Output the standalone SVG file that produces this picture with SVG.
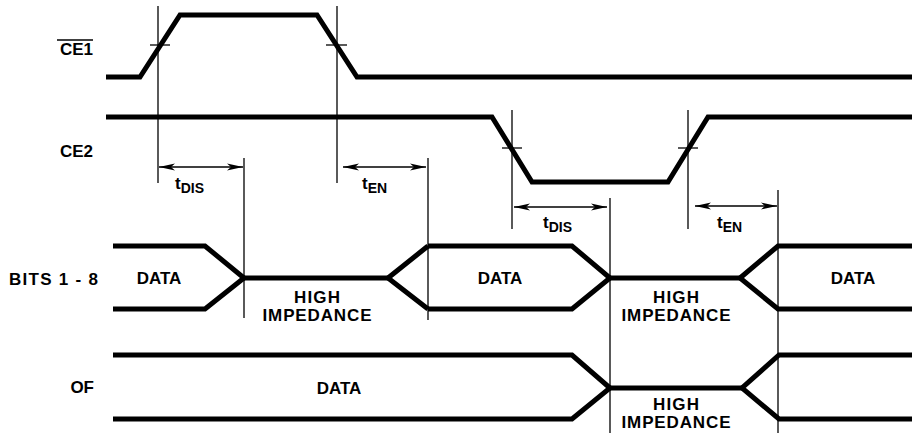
<svg xmlns="http://www.w3.org/2000/svg" width="912" height="433" viewBox="0 0 912 433">
<style>
.sig{fill:none;stroke:#000;stroke-width:5;stroke-linejoin:miter;stroke-linecap:butt}
.ref{fill:none;stroke:#000;stroke-width:1.3}
.arr{fill:none;stroke:#000;stroke-width:1.5;marker-start:url(#ah);marker-end:url(#ah)}
.lbl{font-family:"Liberation Sans",Arial,sans-serif;font-weight:bold;font-size:17px;fill:#000}
.c{text-anchor:middle}
.e{text-anchor:end}
.sub{font-size:14px}
</style>
<defs>
<marker id="ah" viewBox="0 0 16 8" refX="16" refY="4" markerWidth="16" markerHeight="8" markerUnits="userSpaceOnUse" orient="auto-start-reverse">
<path d="M0,0.6 L16,4 L0,7.4 L4,4 z" fill="#000"/>
</marker>
</defs>
<rect width="912" height="433" fill="#fff"/>

<g id="labels">
<g id="lbl-ce1"><text class="lbl e" x="93" y="55">CE1</text><line x1="57" y1="40" x2="93" y2="40" stroke="#000" stroke-width="1.5"/></g>
<g id="lbl-ce2"><text class="lbl e" x="93" y="157">CE2</text></g>
<g id="lbl-bits"><text class="lbl e" x="98" y="285" textLength="89" lengthAdjust="spacing">BITS 1 - 8</text></g>
<g id="lbl-of"><text class="lbl e" x="94" y="393">OF</text></g>
</g>

<g id="connectors">
<line class="ref" x1="158" y1="6" x2="158" y2="183"/>
<line class="ref" x1="337" y1="6" x2="337" y2="183"/>
<line class="ref" x1="244" y1="158" x2="244" y2="318"/>
<line class="ref" x1="428" y1="158" x2="428" y2="320"/>
<line class="ref" x1="512" y1="110" x2="512" y2="229"/>
<line class="ref" x1="688" y1="110" x2="688" y2="229"/>
<line class="ref" x1="610" y1="198" x2="610" y2="433"/>
<line class="ref" x1="778" y1="190" x2="778" y2="433"/>
<line class="ref" x1="150" y1="45" x2="170" y2="45"/>
<line class="ref" x1="326" y1="45" x2="347" y2="45"/>
<line class="ref" x1="502" y1="148" x2="522" y2="148"/>
<line class="ref" x1="678" y1="148" x2="698" y2="148"/>
<line class="arr" x1="159" y1="167" x2="243" y2="167"/>
<line class="arr" x1="343" y1="167" x2="426" y2="167"/>
<line class="arr" x1="514" y1="207" x2="607" y2="207"/>
<line class="arr" x1="695" y1="206" x2="777" y2="206"/>
</g>

<g id="ce1"><polyline class="sig" points="106,77 140,77 180,15 317,15 357,77 912,77"/></g>
<g id="ce2"><polyline class="sig" points="106,117 492,117 532,182 668,182 708,117 912,117"/></g>

<g id="bits">
<polyline class="sig" points="113,246 205,246 244,278 205,309 113,309"/>
<line class="sig" x1="244" y1="278" x2="388" y2="278"/>
<polyline class="sig" points="428,246 388,278 428,309"/>
<polyline class="sig" points="428,246 572,246 610,278 572,309 428,309"/>
<line class="sig" x1="610" y1="278" x2="740" y2="278"/>
<polyline class="sig" points="912,246 778,246 740,278 778,309 912,309"/>
<text class="lbl c" x="159" y="284">DATA</text>
<text class="lbl c" x="317" y="303" textLength="46" lengthAdjust="spacing">HIGH</text>
<text class="lbl c" x="317" y="321" textLength="109" lengthAdjust="spacing">IMPEDANCE</text>
<text class="lbl c" x="500" y="284">DATA</text>
<text class="lbl c" x="676" y="303" textLength="46" lengthAdjust="spacing">HIGH</text>
<text class="lbl c" x="676" y="321" textLength="109" lengthAdjust="spacing">IMPEDANCE</text>
<text class="lbl c" x="853" y="284">DATA</text>
</g>

<g id="of">
<polyline class="sig" points="113,355 572,355 610,388 572,419 113,419"/>
<line class="sig" x1="610" y1="388" x2="742" y2="388"/>
<polyline class="sig" points="912,355 779,355 742,388 779,419 912,419"/>
<text class="lbl c" x="339" y="394">DATA</text>
<text class="lbl c" x="676" y="410" textLength="46" lengthAdjust="spacing">HIGH</text>
<text class="lbl c" x="676" y="428" textLength="109" lengthAdjust="spacing">IMPEDANCE</text>
</g>

<g id="timing-labels">
<text class="lbl" x="175" y="189">t<tspan class="sub" dy="4">DIS</tspan></text>
<text class="lbl" x="362" y="189">t<tspan class="sub" dy="4">EN</tspan></text>
<text class="lbl" x="543" y="228">t<tspan class="sub" dy="4">DIS</tspan></text>
<text class="lbl" x="717" y="228">t<tspan class="sub" dy="4">EN</tspan></text>
</g>
</svg>
